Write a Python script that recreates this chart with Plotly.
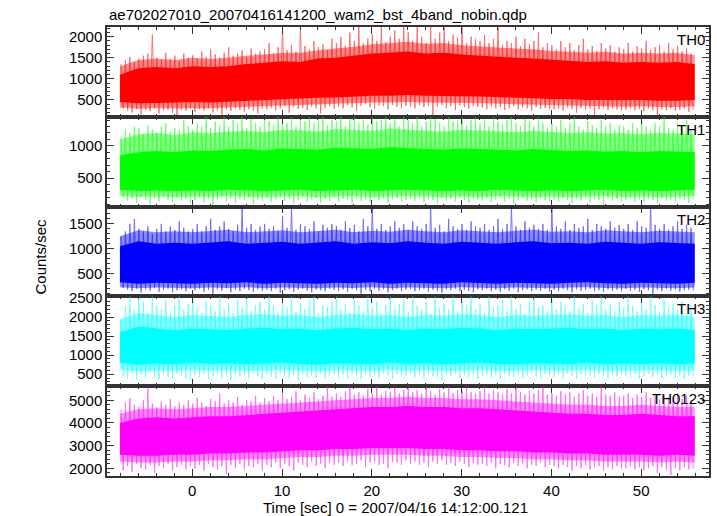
import plotly.graph_objects as go
from plotly.subplots import make_subplots

TITLE = "ae702027010_20070416141200_wam2_bst_4band_nobin.qdp"
X_TITLE = "Time [sec] 0 = 2007/04/16 14:12:00.121"
Y_TITLE = "Counts/sec"
BANDS = ["TH0", "TH1", "TH2", "TH3", "TH0123"]
COLORS = ["#ff0000", "#00ff00", "#0000ff", "#00ffff", "#ff00ff"]
RGB = [(255, 0, 0), (0, 255, 0), (0, 0, 255), (0, 255, 255), (255, 0, 255)]
Y_RANGES = [[100, 2230], [60, 1450], [46, 1846], [186, 2540], [1660, 5620]]
Y_DTICK = [500, 500, 500, 500, 1000]
Y_MINOR = [100, 100, 100, 100, 200]
X_RANGE = [-9.5, 57.55]

# time of the 2-s envelope samples
t_core = [-8.06, -6, -4, -2, 0, 2, 4, 6, 8, 10, 12, 14, 16, 18, 20, 22, 24, 26, 28, 30,
          32, 34, 36, 38, 40, 42, 44, 46, 48, 50, 52, 54, 55.96]
# 0.5-s bins: maximum at bin start, minimum at bin middle
SPK_T0 = -7.95
SPK_DT = 0.5

# ---------------- TH0 ----------------
th0_core_hi = [1100, 1250, 1280, 1250, 1300, 1280, 1300, 1350, 1380, 1420, 1400, 1480, 1500, 1550, 1600, 1620, 1650,
               1600, 1620, 1580, 1550, 1520, 1500, 1480, 1450, 1430, 1400, 1420, 1380, 1400, 1380, 1400, 1350]
th0_core_lo = [450, 420, 430, 440, 450, 440, 460, 480, 500, 520, 530, 550, 560, 580, 600, 600, 620,
               600, 600, 590, 580, 570, 560, 540, 520, 520, 500, 500, 490, 500, 480, 480, 500]
th0_mid_hi = [1300, 1450, 1480, 1450, 1500, 1470, 1500, 1550, 1580, 1620, 1620, 1680, 1720, 1760, 1820, 1850, 1880,
              1830, 1850, 1800, 1770, 1740, 1720, 1700, 1660, 1640, 1620, 1640, 1600, 1620, 1600, 1620, 1560]
th0_mid_lo = [320, 290, 300, 300, 310, 300, 320, 340, 350, 370, 380, 400, 410, 420, 440, 440, 450,
              440, 440, 430, 420, 410, 400, 390, 370, 370, 350, 350, 340, 350, 330, 330, 350]
th0_hi = [1350, 1450, 1520, 1400, 1480, 1550, 1600, 2050, 1500, 1450, 1620, 1480, 1550, 1420, 1600, 1500,
          1560, 1480, 1650, 1520, 1700, 1580, 1500, 1620, 1750, 1550, 1600, 1680, 1520, 1720, 1600, 1650,
          1700, 1850, 1600, 1750, 2230, 1680, 1800, 1650, 2230, 1780, 1700, 1900, 1750, 1820, 1680, 1950,
          1850, 2000, 1780, 2100, 1900, 2230, 1850, 1950, 2050, 1900, 2230, 1880, 2000, 2150, 1950, 2230,
          2100, 1900, 2230, 2000, 1850, 2230, 1950, 2100, 2230, 1900, 2050, 1980, 2230, 1850, 2000, 1950,
          1900, 2050, 1850, 1950, 2230, 1800, 1900, 1850, 2000, 1780, 1950, 1820, 1900, 2100, 1750, 1850,
          1800, 1700, 1900, 1750, 1850, 1680, 1800, 1950, 1700, 1780, 1650, 1850, 1720, 1800, 1650, 1750,
          1700, 1850, 1650, 1780, 1720, 1900, 1680, 1750, 1800, 1650, 1850, 1700, 1780, 1650, 1720, 1600]
th0_lo = [300, 250, 200, 280, 150, 260, 230, 300, 180, 250, 270, 200, 120, 260, 240, 300,
          220, 280, 250, 300, 200, 260, 150, 280, 240, 300, 260, 220, 280, 250, 180, 300,
          280, 320, 250, 300, 350, 200, 330, 290, 310, 260, 340, 300, 180, 320, 350, 300,
          340, 300, 380, 320, 250, 360, 400, 330, 300, 370, 350, 280, 380, 340, 300, 360,
          350, 300, 380, 330, 360, 120, 340, 380, 300, 350, 260, 370, 330, 300, 360, 340,
          320, 280, 350, 300, 330, 260, 310, 350, 280, 320, 300, 250, 330, 290, 310, 280,
          280, 300, 250, 320, 290, 200, 310, 270, 300, 130, 280, 310, 260, 300, 280, 250,
          270, 300, 250, 280, 230, 300, 260, 120, 280, 250, 300, 240, 270, 290, 220, 260]

# ---------------- TH1 ----------------
th1_core_hi = [850, 900, 920, 900, 930, 920, 940, 950, 930, 960, 950, 940, 970, 960, 950, 980, 960,
               950, 940, 960, 950, 940, 930, 950, 940, 920, 930, 910, 920, 900, 920, 910, 900]
th1_core_lo = [320, 300, 310, 300, 310, 300, 320, 310, 300, 310, 320, 300, 310, 320, 300, 310, 320,
               310, 300, 310, 300, 320, 310, 300, 310, 300, 310, 320, 300, 310, 300, 310, 320]
th1_mid_hi = [1100, 1180, 1200, 1170, 1210, 1200, 1220, 1230, 1210, 1250, 1240, 1220, 1260, 1250, 1230, 1270, 1250,
              1240, 1220, 1250, 1240, 1220, 1210, 1230, 1220, 1200, 1210, 1190, 1200, 1180, 1200, 1190, 1180]
th1_mid_lo = [220, 210, 215, 205, 215, 210, 225, 215, 205, 215, 225, 205, 215, 225, 205, 215, 225,
              215, 205, 215, 205, 225, 215, 205, 215, 205, 215, 225, 205, 215, 205, 215, 225]
th1_hi = [1150, 1250, 1200, 1300, 1280, 1180, 1320, 1250, 1200, 1300, 1350, 1220, 1280, 1250, 1400, 1300,
          1250, 1350, 1300, 1450, 1280, 1380, 1320, 1450, 1300, 1400, 1350, 1450, 1280, 1420, 1350, 1300,
          1450, 1380, 1320, 1450, 1400, 1350, 1450, 1300, 1420, 1380, 1450, 1350, 1400, 1450, 1320, 1400,
          1380, 1450, 1300, 1420, 1450, 1350, 1400, 1320, 1450, 1380, 1400, 1450, 1350, 1420, 1300, 1450,
          1400, 1350, 1450, 1300, 1380, 1450, 1420, 1350, 1300, 1450, 1380, 1400, 1450, 1320, 1400, 1450,
          1350, 1420, 1300, 1450, 1380, 1330, 1400, 1450, 1350, 1300, 1420, 1380, 1300, 1450, 1350, 1280,
          1350, 1300, 1400, 1280, 1350, 1450, 1300, 1250, 1380, 1320, 1280, 1400, 1300, 1350, 1250, 1320,
          1300, 1250, 1350, 1280, 1400, 1300, 1250, 1350, 1300, 1450, 1280, 1250, 1350, 1300, 1400, 1250]
th1_lo = [200, 150, 180, 120, 220, 160, 100, 190, 140, 210, 170, 130, 200, 150, 180, 110,
          160, 200, 130, 180, 90, 170, 210, 140, 190, 120, 180, 160, 200, 100, 170, 150,
          190, 130, 170, 200, 150, 180, 110, 160, 200, 140, 170, 190, 120, 180, 150, 200,
          140, 180, 160, 100, 190, 150, 170, 130, 200, 160, 180, 110, 170, 190, 140, 160,
          180, 150, 200, 130, 170, 160, 110, 190, 150, 180, 140, 200, 160, 120, 180, 170,
          150, 190, 130, 170, 200, 140, 180, 100, 160, 190, 150, 170, 130, 200, 160, 140,
          170, 140, 190, 160, 120, 180, 150, 200, 130, 170, 160, 90, 190, 150, 180, 140,
          160, 190, 140, 170, 130, 180, 160, 110, 190, 150, 170, 140, 180, 160, 120, 170]

# ---------------- TH2 ----------------
th2_core_hi = [1050, 1150, 1100, 1120, 1100, 1130, 1150, 1100, 1120, 1140, 1100, 1120, 1150, 1100, 1130, 1110, 1150,
               1120, 1100, 1140, 1120, 1100, 1130, 1150, 1110, 1120, 1100, 1140, 1120, 1100, 1130, 1120, 1100]
th2_core_lo = [330, 300, 320, 310, 300, 320, 310, 330, 300, 320, 310, 300, 320, 310, 330, 300, 320,
               310, 300, 330, 310, 300, 320, 310, 300, 320, 330, 310, 300, 320, 310, 300, 320]
th2_mid_hi = [1250, 1370, 1330, 1350, 1330, 1360, 1380, 1330, 1350, 1370, 1330, 1350, 1380, 1330, 1360, 1340, 1380,
              1350, 1330, 1370, 1350, 1330, 1360, 1380, 1340, 1350, 1330, 1370, 1350, 1330, 1360, 1350, 1330]
th2_mid_lo = [230, 210, 225, 215, 210, 225, 215, 230, 210, 225, 215, 210, 225, 215, 230, 210, 225,
              215, 210, 230, 215, 210, 225, 215, 210, 225, 230, 215, 210, 225, 215, 210, 225]
th2_hi = [1250, 1350, 1500, 1600, 1400, 1350, 1450, 1300, 1400, 1500, 1350, 1450, 1380, 1550, 1420, 1350,
          1400, 1500, 1350, 1450, 1600, 1380, 1450, 1550, 1400, 1350, 1480, 1846, 1420, 1500, 1380, 1450,
          1500, 1400, 1450, 1350, 1650, 1420, 1846, 1380, 1500, 1450, 1400, 1550, 1350, 1480, 1420, 1500,
          1450, 1380, 1550, 1420, 1480, 1350, 1600, 1450, 1846, 1400, 1500, 1380, 1450, 1550, 1420, 1500,
          1380, 1550, 1450, 1400, 1500, 1846, 1420, 1480, 1350, 1600, 1450, 1400, 1500, 1380, 1550, 1450,
          1420, 1500, 1380, 1450, 1600, 1400, 1500, 1846, 1450, 1380, 1550, 1420, 1480, 1400, 1500, 1380,
          1846, 1450, 1400, 1550, 1380, 1500, 1420, 1450, 1600, 1380, 1500, 1450, 1400, 1550, 1420, 1480,
          1400, 1500, 1380, 1550, 1450, 1420, 1846, 1480, 1400, 1500, 1380, 1450, 1550, 1400, 1480, 1420]
th2_lo = [220, 180, 150, 200, 120, 190, 160, 210, 140, 180, 200, 130, 170, 190, 150, 200,
          170, 200, 140, 180, 100, 190, 160, 210, 130, 180, 150, 200, 170, 140, 190, 160,
          180, 150, 200, 120, 170, 190, 140, 180, 200, 160, 130, 190, 170, 150, 200, 180,
          160, 190, 140, 200, 170, 100, 180, 150, 200, 160, 190, 130, 170, 200, 150, 180,
          190, 150, 170, 200, 140, 180, 160, 120, 190, 170, 200, 150, 180, 160, 130, 190,
          170, 200, 150, 180, 140, 190, 160, 200, 130, 170, 190, 150, 180, 160, 200, 140,
          180, 150, 200, 170, 130, 190, 160, 180, 200, 150, 170, 140, 190, 160, 180, 150,
          200, 160, 180, 140, 190, 170, 100, 180, 150, 200, 160, 190, 140, 170, 180, 160]

# ---------------- TH3 ----------------
th3_core_hi = [1600, 1750, 1700, 1650, 1700, 1680, 1650, 1700, 1720, 1680, 1700, 1650, 1700, 1720, 1680, 1700, 1650,
               1700, 1680, 1720, 1700, 1650, 1700, 1680, 1700, 1720, 1680, 1700, 1650, 1700, 1680, 1700, 1650]
th3_core_lo = [800, 750, 780, 760, 800, 770, 790, 760, 780, 800, 770, 750, 790, 780, 760, 800, 770,
               790, 760, 780, 800, 770, 760, 790, 780, 770, 800, 760, 780, 770, 790, 760, 780]
th3_mid_hi = [1950, 2100, 2050, 2000, 2050, 2030, 2000, 2050, 2070, 2030, 2050, 2000, 2050, 2070, 2030, 2050, 2000,
              2050, 2030, 2070, 2050, 2000, 2050, 2030, 2050, 2070, 2030, 2050, 2000, 2050, 2030, 2050, 2000]
th3_mid_lo = [620, 580, 600, 590, 620, 600, 610, 590, 600, 620, 600, 580, 610, 600, 590, 620, 600,
              610, 590, 600, 620, 600, 590, 610, 600, 600, 620, 590, 600, 600, 610, 590, 600]
th3_hi = [1900, 2300, 2540, 2200, 2540, 2400, 2100, 2540, 2300, 2200, 2450, 2100, 2300, 2540, 2200, 2350,
          2540, 2250, 2100, 2400, 2300, 2150, 2540, 2200, 2350, 2100, 2450, 2250, 2540, 2150, 2300, 2400,
          2200, 2540, 2300, 2100, 2400, 2250, 2540, 2150, 2350, 2200, 2450, 2540, 2100, 2300, 2250, 2400,
          2540, 2200, 2350, 2100, 2450, 2300, 2150, 2540, 2250, 2400, 2100, 2300, 2540, 2200, 2350, 2450,
          2150, 2540, 2300, 2200, 2400, 2100, 2540, 2250, 2350, 2200, 2540, 2150, 2400, 2300, 2540, 2200,
          2350, 2100, 2540, 2250, 2300, 2450, 2150, 2540, 2200, 2350, 2100, 2400, 2540, 2250, 2300, 2150,
          2540, 2200, 2400, 2300, 2150, 2540, 2250, 2350, 2100, 2450, 2300, 2540, 2200, 2350, 2150, 2400,
          2250, 2540, 2300, 2150, 2400, 2200, 2540, 2300, 2150, 2450, 2250, 2350, 2200, 2400, 2100, 2300]
th3_lo = [450, 380, 520, 350, 480, 400, 550, 420, 360, 500, 440, 380, 520, 460, 400, 350,
          480, 420, 500, 380, 450, 520, 400, 470, 350, 500, 430, 480, 400, 520, 450, 380,
          500, 440, 380, 520, 460, 400, 480, 350, 500, 430, 470, 410, 520, 380, 460, 500,
          420, 480, 390, 510, 450, 370, 500, 440, 480, 410, 520, 460, 380, 500, 440, 470,
          510, 430, 480, 390, 500, 460, 420, 350, 490, 450, 520, 400, 470, 430, 500, 380,
          460, 500, 420, 480, 380, 510, 450, 430, 490, 400, 470, 520, 440, 390, 500, 460,
          430, 490, 400, 520, 460, 380, 500, 440, 470, 410, 510, 450, 390, 480, 440, 500,
          470, 420, 500, 380, 460, 510, 430, 480, 400, 450, 490, 420, 470, 380, 460, 440]

# ---------------- TH0123 ----------------
thall_core_hi = [4000, 4200, 4250, 4200, 4250, 4300, 4300, 4350, 4400, 4450, 4500, 4550, 4600, 4650, 4700, 4700, 4750,
                 4700, 4700, 4650, 4650, 4600, 4550, 4500, 4450, 4400, 4400, 4350, 4350, 4400, 4350, 4300, 4300]
thall_core_lo = [2600, 2550, 2550, 2600, 2600, 2650, 2650, 2700, 2700, 2750, 2800, 2800, 2850, 2850, 2900, 2900, 2900,
                 2850, 2850, 2800, 2800, 2750, 2750, 2700, 2700, 2650, 2650, 2600, 2600, 2600, 2550, 2600, 2550]
thall_mid_hi = [4400, 4600, 4650, 4600, 4650, 4700, 4700, 4750, 4800, 4850, 4900, 4950, 5000, 5050, 5100, 5100, 5150,
                5100, 5100, 5050, 5050, 5000, 4950, 4900, 4850, 4800, 4800, 4750, 4750, 4800, 4750, 4700, 4700]
thall_mid_lo = [2300, 2250, 2250, 2300, 2300, 2350, 2350, 2400, 2400, 2450, 2500, 2500, 2550, 2550, 2600, 2600, 2600,
                2550, 2550, 2500, 2500, 2450, 2450, 2400, 2400, 2350, 2350, 2300, 2300, 2300, 2250, 2300, 2250]
thall_hi = [4600, 4900, 5100, 4800, 4700, 5000, 5600, 4850, 4700, 4950, 4800, 5050, 4750, 4900, 4800, 5000,
            4850, 5100, 4900, 4750, 5050, 4950, 5300, 4850, 5000, 4900, 5150, 4800, 5000, 4950, 5200, 4900,
            5100, 4950, 5200, 5000, 5300, 5050, 5150, 5400, 5000, 5250, 5100, 5350, 5050, 5200, 5620, 5150,
            5300, 5150, 5400, 5620, 5250, 5350, 5200, 5500, 5300, 5620, 5250, 5400, 5350, 5620, 5300, 5450,
            5620, 5350, 5450, 5300, 5620, 5400, 5250, 5500, 5350, 5620, 5300, 5450, 5400, 5620, 5350, 5300,
            5400, 5620, 5300, 5450, 5350, 5250, 5500, 5300, 5620, 5350, 5250, 5400, 5300, 5450, 5620, 5250,
            5300, 5200, 5400, 5250, 5350, 5150, 5300, 5450, 5200, 5300, 5150, 5620, 5250, 5200, 5350, 5150,
            5200, 5300, 5100, 5250, 5150, 5350, 5100, 5200, 5050, 5250, 5150, 5100, 5300, 5050, 5200, 5000]
thall_lo = [1900, 2100, 1850, 2200, 2000, 1950, 2150, 1800, 2100, 2000, 2200, 1900, 2050, 2150, 1950, 2100,
            2000, 2150, 1900, 2200, 2050, 1950, 2100, 1750, 2150, 2000, 2200, 1950, 2100, 2050, 2200, 1900,
            2150, 2050, 2250, 2000, 2200, 2100, 1900, 2250, 2150, 2050, 2300, 2100, 2200, 2000, 2250, 2150,
            2250, 2100, 2300, 2150, 2200, 2350, 2050, 2250, 2300, 2150, 2200, 2000, 2300, 2250, 2150, 2350,
            2200, 2300, 2150, 2250, 2050, 2300, 2200, 2350, 2150, 2250, 2100, 2300, 2200, 2050, 2250, 2150,
            2200, 2100, 2250, 2000, 2200, 2150, 2050, 2250, 2100, 2200, 2000, 2150, 2100, 2250, 2050, 2150,
            2100, 2000, 2150, 2050, 1900, 2100, 2000, 2150, 1950, 2050, 2100, 1900, 2050, 1950, 2100, 2000,
            2000, 2100, 1950, 2050, 1900, 2000, 2100, 1800, 2050, 1950, 1700, 2000, 1900, 2050, 1950, 2000]

CORE_HI = [th0_core_hi, th1_core_hi, th2_core_hi, th3_core_hi, thall_core_hi]
CORE_LO = [th0_core_lo, th1_core_lo, th2_core_lo, th3_core_lo, thall_core_lo]
MID_HI = [th0_mid_hi, th1_mid_hi, th2_mid_hi, th3_mid_hi, thall_mid_hi]
MID_LO = [th0_mid_lo, th1_mid_lo, th2_mid_lo, th3_mid_lo, thall_mid_lo]
SPK_HI = [th0_hi, th1_hi, th2_hi, th3_hi, thall_hi]
SPK_LO = [th0_lo, th1_lo, th2_lo, th3_lo, thall_lo]

FONT = "Liberation Sans, Arial, sans-serif"
AX = "#333333"

fig = make_subplots(rows=5, cols=1, shared_xaxes=True, vertical_spacing=0)


def band(lo, hi, fillcolor, row):
    fig.add_trace(go.Scatter(x=t_core, y=lo, mode="lines", line=dict(width=0),
                             hoverinfo="skip", showlegend=False), row=row, col=1)
    fig.add_trace(go.Scatter(x=t_core, y=hi, mode="lines", fill="tonexty",
                             fillcolor=fillcolor, line=dict(width=0),
                             hoverinfo="skip", showlegend=False), row=row, col=1)


for k in range(5):
    row = k + 1
    col = COLORS[k]
    r, g, b = RGB[k]
    # outer band where the light curve is dense but not continuous
    band(MID_LO[k], MID_HI[k], f"rgba({r},{g},{b},0.45)", row)
    # core band: nearly solid
    band(CORE_LO[k], CORE_HI[k], col, row)
    # light curve extremes: max and min of each 0.5 s bin, joined as a zigzag
    xs, ys = [], []
    for i, (hi, lo) in enumerate(zip(SPK_HI[k], SPK_LO[k])):
        t = SPK_T0 + SPK_DT * i
        xs += [t, t + SPK_DT / 2]
        ys += [hi, lo]
    fig.add_trace(go.Scatter(x=xs, y=ys, mode="lines", line=dict(color=col, width=0.9),
                             opacity=0.6, hoverinfo="skip", showlegend=False), row=row, col=1)

    fig.update_yaxes(range=Y_RANGES[k], dtick=Y_DTICK[k], tick0=0, ticks="inside", ticklen=7,
                     tickcolor=AX, showline=True, linecolor=AX, linewidth=1.5, mirror="ticks",
                     showgrid=False, zeroline=False,
                     minor=dict(ticks="inside", ticklen=3, dtick=Y_MINOR[k], tick0=0, tickcolor=AX),
                     tickfont=dict(family=FONT, size=15, color="black"), row=row, col=1)
    fig.update_xaxes(range=X_RANGE, dtick=10, tick0=0, ticks="inside", ticklen=7, tickcolor=AX,
                     showline=True, linecolor=AX, linewidth=1.5, mirror="ticks",
                     showgrid=False, zeroline=False,
                     minor=dict(ticks="inside", ticklen=3, dtick=2, tick0=0, tickcolor=AX),
                     tickfont=dict(family=FONT, size=15, color="black"),
                     showticklabels=(row == 5), row=row, col=1)
    yref = "y domain" if row == 1 else f"y{row} domain"
    xref = "x domain" if row == 1 else f"x{row} domain"
    fig.add_annotation(text=BANDS[k], xref=xref, yref=yref, x=1.0, y=1.0, xanchor="right",
                       yanchor="top", xshift=-2, yshift=-2, showarrow=False,
                       font=dict(family=FONT, size=15, color="black"))

fig.add_annotation(text=TITLE, xref="paper", yref="paper", x=0, y=1, xanchor="left",
                   yanchor="bottom", yshift=2, showarrow=False,
                   font=dict(family=FONT, size=15, color="black"))
fig.add_annotation(text=X_TITLE, xref="paper", yref="paper", x=0.48, y=0, xanchor="center",
                   yanchor="top", yshift=-21, showarrow=False,
                   font=dict(family=FONT, size=15, color="black"))
fig.add_annotation(text=Y_TITLE, xref="paper", yref="paper", x=0, y=0.5, xanchor="center",
                   yanchor="middle", xshift=-67, yshift=-5, textangle=-90, showarrow=False,
                   font=dict(family=FONT, size=15, color="black"))

fig.update_layout(width=717, height=516, margin=dict(l=107, r=6, t=27, b=40),
                  paper_bgcolor="white", plot_bgcolor="white", showlegend=False)

fig.write_html("out.html", config={"displayModeBar": False},
               post_script="document.body.style.margin='0';")
